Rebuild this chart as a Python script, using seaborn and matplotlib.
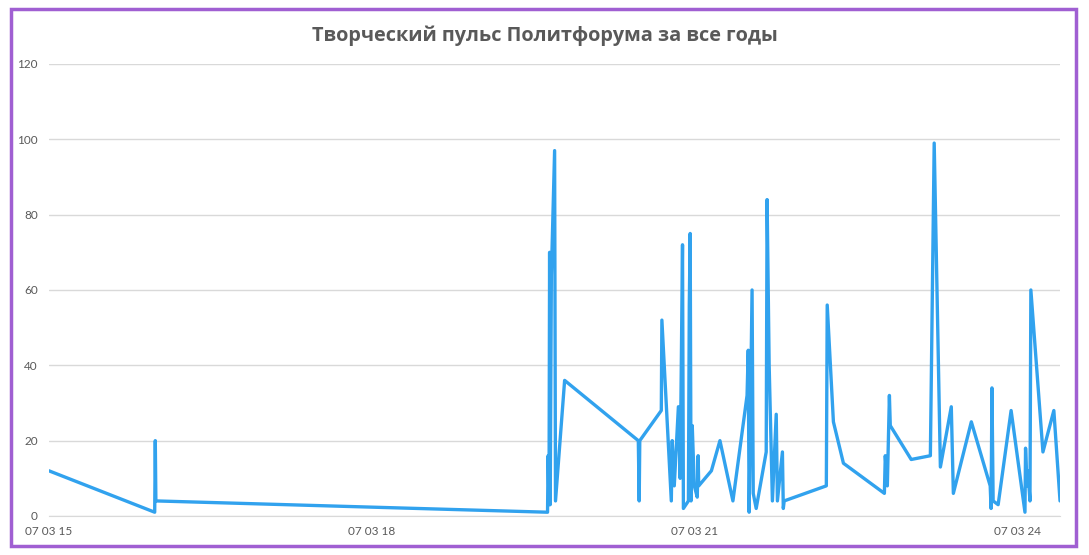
import numpy as np
import pandas as pd
import matplotlib.pyplot as plt
import matplotlib.dates as mdates
from matplotlib.patches import Rectangle
import seaborn as sns

dates = ['2015-07-03', '2016-06-26', '2016-06-28', '2016-06-30',
         '2020-02-19', '2020-02-21', '2020-02-24', '2020-02-26', '2020-02-28', '2020-03-03',
         '2020-03-14', '2020-03-17', '2020-04-17',
         '2020-12-23', '2020-12-26', '2020-12-28', '2021-03-11', '2021-03-13', '2021-04-14',
         '2021-04-17', '2021-04-24', '2021-05-08', '2021-05-14', '2021-05-22', '2021-05-25',
         '2021-06-11', '2021-06-14', '2021-06-17', '2021-06-20', '2021-06-24', '2021-07-01',
         '2021-07-11', '2021-07-14', '2021-07-16', '2021-08-28', '2021-09-26', '2021-11-09',
         '2021-12-27', '2021-12-31', '2022-01-03', '2022-01-13', '2022-01-17', '2022-01-27',
         '2022-03-02', '2022-03-05', '2022-03-12', '2022-03-23', '2022-04-05', '2022-04-09',
         '2022-04-26', '2022-04-29', '2022-05-02',
         '2022-09-22', '2022-09-25', '2022-10-16', '2022-11-19',
         '2023-04-07', '2023-04-10', '2023-04-17', '2023-04-24', '2023-04-27',
         '2023-07-07', '2023-09-10', '2023-09-23', '2023-10-14', '2023-11-20', '2023-11-27',
         '2024-01-27', '2024-03-31', '2024-04-03', '2024-04-06', '2024-04-10', '2024-04-27',
         '2024-06-10', '2024-07-27', '2024-07-29', '2024-08-03', '2024-08-06', '2024-08-13',
         '2024-08-16', '2024-09-26', '2024-11-02', '2024-11-23']
posts = [12, 1, 20, 4,
         1, 16, 3, 70, 3, 64,
         97, 4, 36,
         20, 4, 20, 28, 52, 4,
         20, 8, 29, 10, 72, 2,
         4, 56, 75, 4, 24, 8,
         5, 16, 8, 12, 20, 4,
         32, 44, 1, 60, 6, 2,
         17, 84, 40, 4, 27, 4,
         17, 2, 4,
         8, 56, 25, 14,
         6, 16, 8, 32, 24,
         15, 16, 99, 13, 29, 6,
         25, 8, 2, 34, 4, 3,
         28, 1, 18, 8, 12, 4,
         60, 17, 28, 4]

title = 'Творческий пульс Политфорума за все годы'

df = pd.DataFrame({'date': pd.to_datetime(dates), 'posts': posts})

sns.set_style('white')
plt.rcParams['font.family'] = ['Lato', 'DejaVu Sans']

fig = plt.figure(figsize=(10.89, 5.55), dpi=100)
ax = fig.add_axes([0.0449, 0.0703, 0.9285, 0.8144])

sns.lineplot(data=df, x='date', y='posts', estimator=None, sort=False,
             color='#31a2ee', linewidth=2.4, ax=ax)

ax.set_ylim(0, 120)
ax.set_yticks(range(0, 121, 20))
ax.set_xlim(pd.Timestamp('2015-07-03'), pd.Timestamp('2024-11-23'))
ax.set_xticks(pd.to_datetime(['2015-07-03', '2018-07-03', '2021-07-03', '2024-07-03']))
ax.xaxis.set_major_formatter(mdates.DateFormatter('%m %d %y'))
ax.grid(axis='y', color='#d9d9d9', linewidth=1)
ax.set_axisbelow(True)
for s in ['left', 'right', 'top']:
    ax.spines[s].set_visible(False)
ax.spines['bottom'].set_color('#d9d9d9')
ax.tick_params(axis='x', colors='#d9d9d9', length=4, width=1, labelcolor='#595959', labelsize=8.5, pad=3)
ax.tick_params(axis='y', length=0, labelcolor='#595959', labelsize=8.5, pad=8)
ax.set_xlabel('')
ax.set_ylabel('')

fig.text(0.5, 0.935, title, ha='center', va='center', fontsize=14.3, fontweight='bold',
         color='#595959', family=['Open Sans', 'DejaVu Sans'])

fig.patches.append(Rectangle((0.0105, 0.0165), 0.978, 0.967, transform=fig.transFigure,
                             fill=False, edgecolor='#a05fd2', linewidth=2.5))

fig.savefig('out.png', dpi=100)
